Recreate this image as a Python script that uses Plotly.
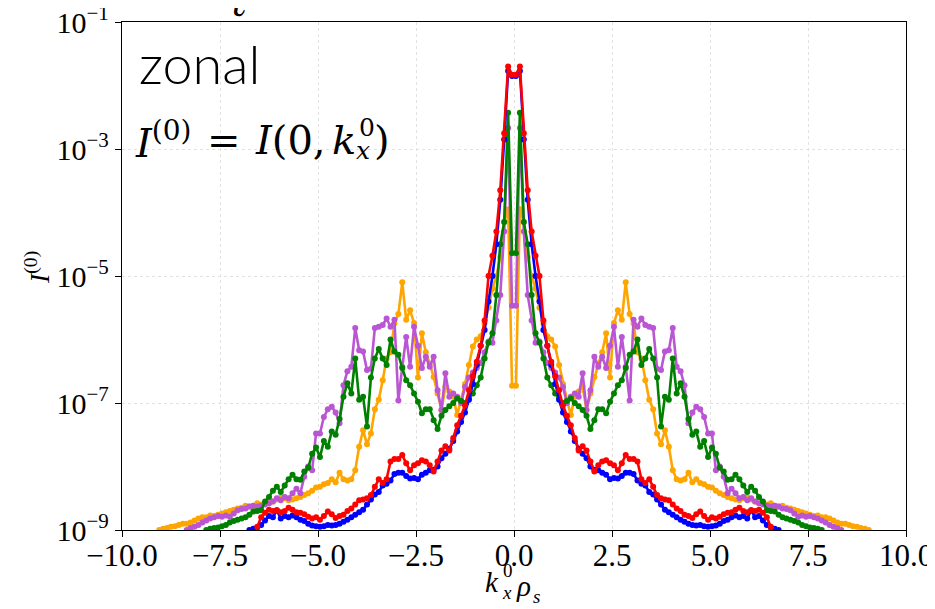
import numpy as np
import plotly.graph_objects as go

# positive-side grid (spectra are symmetric in kx); values are log10 I(0,kx)
dk = 0.1
kx_pos = [round(0.05 + dk * i, 2) for i in range(93)]

log_blue = [-1.85, -1.77, -2.85, -3.8, -4.5, -5.0, -5.4, -5.85, -6.1, -6.4,
            -6.7, -6.95, -7.15, -7.3, -7.45, -7.6, -7.72, -7.8, -7.87, -8.0,
            -8.05, -8.06, -8.1, -8.13, -8.2, -8.18, -8.19, -8.15, -8.1, -8.1,
            -8.12, -8.22, -8.27, -8.3, -8.4, -8.44, -8.52, -8.6, -8.68, -8.72,
            -8.76, -8.8, -8.84, -8.87, -8.9, -8.92, -8.93, -8.92, -8.94, -8.95,
            -8.94, -8.93, -8.9, -8.86, -8.84, -8.8, -8.77, -8.8, -8.78, -8.82,
            -8.69, -8.8, -8.78, -8.85, -8.92, -8.96, -8.98, -9.0, -9.3]

log_red = [-1.83, -1.70, -2.75, -3.65, -4.3, -4.68, -5.0, -5.7, -6.1, -6.35,
           -6.58, -6.8, -7.04, -7.2, -7.35, -7.55, -7.75, -7.68, -7.75, -7.92,
           -8.08, -7.98, -7.92, -7.9, -7.95, -7.98, -8.06, -7.95, -7.82, -7.88,
           -7.88, -7.92, -8.2, -8.26, -8.2, -8.32, -8.45, -8.5, -8.52, -8.53,
           -8.6, -8.66, -8.7, -8.76, -8.78, -8.81, -8.75, -8.71, -8.78, -8.84,
           -8.8, -8.82, -8.79, -8.75, -8.73, -8.72, -8.68, -8.65, -8.7, -8.72,
           -8.69, -8.7, -8.68, -8.73, -8.8, -8.95, -9.3]

log_orange = [-6.73, -3.95, -4.15, -4.7, -5.0, -5.2, -5.5, -5.75, -5.95, -6.0,
              -6.11, -6.4, -6.7, -6.95, -7.19, -6.9, -6.82, -6.74, -7.11, -6.85,
              -6.59, -6.38, -6.2, -5.9, -6.6, -5.74, -5.54, -5.69, -5.1, -5.6,
              -5.75, -6.2, -6.3, -6.64, -6.95, -7.1, -7.48, -7.65, -7.43, -7.69,
              -8.06, -8.2, -8.22, -8.2, -8.1, -8.25, -8.2, -8.26, -8.28, -8.32,
              -8.33, -8.38, -8.42, -8.45, -8.48, -8.5, -8.52, -8.53, -8.5, -8.49,
              -8.52, -8.55, -8.58, -8.57, -8.6, -8.58, -8.62, -8.63, -8.62, -8.65,
              -8.66, -8.68, -8.7, -8.72, -8.74, -8.76, -8.78, -8.77, -8.8, -8.8,
              -8.82, -8.85, -8.88, -8.9, -8.9, -8.92, -8.94, -8.95, -8.97, -8.98,
              -9.0, -9.05, -9.3]

log_purple = [-5.47, -2.67, -4.3, -5.3, -5.7, -6.05, -6.03, -6.2, -6.37, -6.45,
              -6.52, -6.6, -6.75, -7.0, -6.9, -6.85, -6.9, -6.53, -7.11, -6.8,
              -6.27, -6.43, -6.27, -6.45, -6.1, -5.8, -6.43, -5.96, -6.43, -6.96,
              -5.69, -5.8, -5.67, -5.77, -5.8, -5.82, -6.46, -6.48, -6.19, -6.17,
              -5.82, -6.43, -6.5, -6.72, -7.32, -7.15, -7.06, -7.1, -7.22, -7.48,
              -7.48, -8.06, -8.0, -8.16, -8.42, -8.35, -8.42, -8.5, -8.48, -8.53,
              -8.5, -8.55, -8.58, -8.6, -8.62, -8.63, -8.62, -8.63, -8.66, -8.67,
              -8.69, -8.74, -8.79, -8.77, -8.79, -8.78, -8.8, -8.82, -8.85, -8.88,
              -8.92, -8.95, -8.97, -9.0, -9.05, -9.3]

log_green = [-4.64, -2.43, -4.15, -4.5, -5.3, -5.9, -6.05, -6.3, -6.6, -6.72,
             -6.85, -6.92, -7.0, -6.97, -6.93, -7.0, -7.05, -7.11, -7.2, -7.41,
             -7.27, -7.1, -7.1, -7.16, -6.98, -6.85, -6.72, -6.64, -6.45, -6.24,
             -6.19, -6.0, -6.4, -6.3, -6.15, -6.3, -6.6, -7.37, -6.9, -6.95,
             -6.3, -6.85, -6.69, -6.9, -7.25, -7.5, -7.45, -7.69, -7.6, -7.85,
             -7.7, -7.8, -8.02, -8.08, -8.21, -8.2, -8.13, -8.2, -8.3, -8.4,
             -8.32, -8.38, -8.48, -8.55, -8.69, -8.7, -8.71, -8.76, -8.8, -8.82,
             -8.84, -8.86, -8.88, -8.92, -8.94, -8.96, -8.97, -8.98, -9.0, -9.3]

series = [
    ("orange", log_orange),
    ("mediumorchid", log_purple),
    ("green", log_green),
    ("blue", log_blue),
    ("red", log_red),
]

x_ticks = [-10.0, -7.5, -5.0, -2.5, 0.0, 2.5, 5.0, 7.5, 10.0]
x_ticktext = ["\u221210.0", "\u22127.5", "\u22125.0", "\u22122.5", "0.0", "2.5", "5.0", "7.5", "10.0"]
y_ticks = [1e-9, 1e-7, 1e-5, 1e-3, 1e-1]
y_ticktext = ["10<sup>\u22129</sup>", "10<sup>\u22127</sup>", "10<sup>\u22125</sup>",
              "10<sup>\u22123</sup>", "10<sup>\u22121</sup>"]

fig = go.Figure()
for color, logs in series:
    kp = kx_pos[:len(logs)]
    vals = [10 ** v for v in logs]
    xs = [-k for k in kp[::-1]] + kp
    ys = vals[::-1] + vals
    fig.add_trace(go.Scatter(x=xs, y=ys, mode="lines+markers",
                             line=dict(color=color, width=2.6),
                             marker=dict(color=color, size=6),
                             showlegend=False))

OFF = 8  # page body margin
W, H = 935, 609
L, R, T, B = 122 - OFF, 29 + OFF, 22 - OFF, 79 + OFF
PW, PH = W - L - R, H - T - B


def px(x):
    return (x - OFF - L) / PW


def py(y):
    return (H - B - (y - OFF)) / PH


serif = "Liberation Serif"
math = "DejaVu Serif"
fig.update_layout(
    template="none",
    width=W, height=H,
    margin=dict(l=L, r=R, t=T, b=B, autoexpand=False),
    paper_bgcolor="white", plot_bgcolor="white",
    font=dict(family=serif, size=28, color="black"),
)
fig.update_xaxes(range=[-10, 10], tickvals=x_ticks, ticktext=x_ticktext, automargin=False,
                 showline=True, linecolor="black", linewidth=1.3, mirror=True,
                 ticks="outside", ticklen=6, tickwidth=1.2, tickcolor="black",
                 ticklabelstandoff=-8, ticklabeloverflow="allow",
                 showgrid=True, gridcolor="#e2e2e2", griddash="dot", gridwidth=1,
                 zeroline=False, tickfont=dict(family=serif, size=31))
fig.update_yaxes(type="log", range=[-9, -1], tickvals=y_ticks, ticktext=y_ticktext, automargin=False,
                 showline=True, linecolor="black", linewidth=1.3, mirror=True,
                 ticks="outside", ticklen=6, tickwidth=1.2, tickcolor="black",
                 ticklabeloverflow="allow",
                 showgrid=True, gridcolor="#e2e2e2", griddash="dot", gridwidth=1,
                 zeroline=False, tickfont=dict(family=serif, size=30))


def ann(x, y, text, size, family=math, xanchor="left", yanchor="middle", angle=0, weight=None):
    f = dict(family=family, size=size, color="black")
    if weight:
        f["weight"] = weight
    fig.add_annotation(xref="paper", yref="paper", x=px(x), y=py(y), xanchor=xanchor,
                       yanchor=yanchor, text=text, showarrow=False, textangle=angle, font=f)


# in-plot texts
ann(137, 64, "zonal", 54, family="Lato", weight=300)
ann(133, 140, "<i>I</i><sup>(0)</sup>", 40)
ann(205, 140, "=", 40)
ann(253, 140, "<i>I</i>(0,", 40)
ann(330, 140, "<i>k</i>", 40)
ann(357, 128, "0", 25)
ann(354, 150, "<i>x</i>", 25)
ann(372, 140, ")", 40)

# x-axis label (stacked super/subscript)
ann(483, 582, "<i>k</i>", 29, family=serif)
ann(501, 570, "0", 19, family=serif)
ann(500, 592, "<i>x</i>", 19, family=serif)
ann(514, 586, "<i>\u03c1</i>", 29, family=serif)
ann(531, 596, "<i>s</i>", 19, family=serif)

# y-axis label
ann(37, 268, "<i>I</i><sup>(0)</sup>", 28, family=serif, xanchor="center", angle=-90)

# clipped title remnant at the very top
ann(238, 2, "<i>\u2113</i>", 40, family=serif, xanchor="center")

fig.write_html("out.html")
